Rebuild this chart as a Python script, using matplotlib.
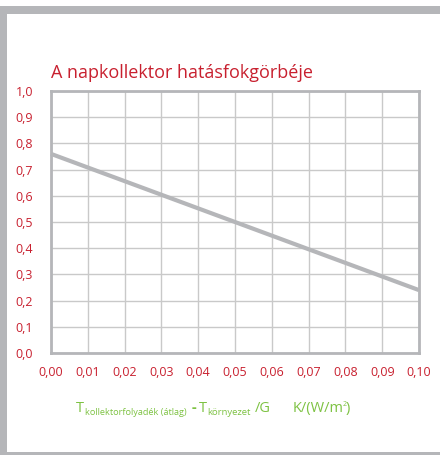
import matplotlib
matplotlib.use("Agg")
import matplotlib.pyplot as plt
from matplotlib.patches import Rectangle

plt.rcParams['font.family'] = ['Open Sans', 'DejaVu Sans']

# data
x_vals = [0.0, 0.10]
eff_vals = [0.76, 0.24]
x_ticks = [0.00, 0.01, 0.02, 0.03, 0.04, 0.05, 0.06, 0.07, 0.08, 0.09, 0.10]
x_labels = ["0,00", "0,01", "0,02", "0,03", "0,04", "0,05", "0,06", "0,07", "0,08", "0,09", "0,10"]
y_ticks = [0.0, 0.1, 0.2, 0.3, 0.4, 0.5, 0.6, 0.7, 0.8, 0.9, 1.0]
y_labels = ["0,0", "0,1", "0,2", "0,3", "0,4", "0,5", "0,6", "0,7", "0,8", "0,9", "1,0"]
title = "A napkollektor hatásfokgörbéje"

RED = "#c8202f"
GREEN = "#7dc242"
GRAY = "#b5b6b9"
GRID = "#c9c9c9"

W, H = 440, 455
fig = plt.figure(figsize=(W / 100, H / 100), dpi=100)
fig.patch.set_facecolor("white")

def px(x, y):
    return x / W, 1 - y / H

# frame
fig.add_artist(Rectangle((0, 1 - 14 / H), 1, 8 / H, transform=fig.transFigure, color=GRAY, lw=0))
fig.add_artist(Rectangle((0, 0), 7 / W, 1 - 6 / H, transform=fig.transFigure, color=GRAY, lw=0))
fig.add_artist(Rectangle((0, 0), 1, 3 / H, transform=fig.transFigure, color=GRAY, lw=0))

L, R, T, B = 51, 419, 91, 353
ax = fig.add_axes([L / W, 1 - B / H, (R - L) / W, (B - T) / H])
ax.set_xlim(0, 0.10)
ax.set_ylim(0, 1.0)
ax.set_xticks(x_ticks)
ax.set_xticklabels(x_labels)
ax.set_yticks(y_ticks)
ax.set_yticklabels(y_labels)
ax.tick_params(axis='both', length=0, colors=RED, labelsize=9)
ax.tick_params(axis='x', pad=9)
ax.tick_params(axis='y', pad=13)
ax.grid(True, color=GRID, lw=1.0)
ax.set_axisbelow(True)
for s in ax.spines.values():
    s.set_color(GRAY)
    s.set_linewidth(2.0)

ax.plot(x_vals, eff_vals, color=GRAY, lw=3.0, solid_capstyle='butt', clip_on=False)

fig.text(*px(51, 73), title, color=RED, fontsize=13, ha='left', va='center')

# x-axis label composed of pieces, laid out left to right
renderer = fig.canvas.get_renderer()
base_y = 412

def t(x, s, size, dy=0, weight='normal'):
    txt = fig.text(*px(x, base_y + dy), s, color=GREEN, fontsize=size,
                   ha='left', va='baseline', weight=weight)
    bb = txt.get_window_extent(renderer)
    return bb.x1

t(76, "T", 10.5)
t(84.5, "kollektorfolyadék (átlag)", 6.6, dy=3)
t(192, "-", 10.5, weight='bold')
t(199, "T", 10.5)
t(207.5, "környezet", 6.8, dy=3)
t(255, "/G", 10.5)
end = t(293, "K/(W/m", 10.5)
end2 = t(end - 1.5, "2", 5.0, dy=-6)
t(end2 - 0.5, ")", 10.5)

fig.savefig("out.png", dpi=100)
